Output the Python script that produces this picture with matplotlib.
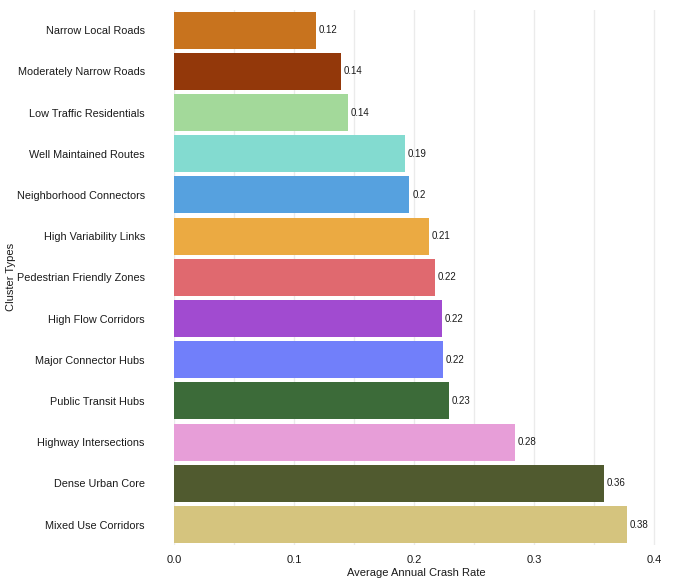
import numpy as np
import matplotlib.pyplot as plt

# cluster names, top to bottom as drawn
clusters = [
    "Narrow Local Roads",
    "Moderately Narrow Roads",
    "Low Traffic Residentials",
    "Well Maintained Routes",
    "Neighborhood Connectors",
    "High Variability Links",
    "Pedestrian Friendly Zones",
    "High Flow Corridors",
    "Major Connector Hubs",
    "Public Transit Hubs",
    "Highway Intersections",
    "Dense Urban Core",
    "Mixed Use Corridors",
]
crash_rate = [0.118, 0.139, 0.1448, 0.192, 0.196, 0.212, 0.217,
              0.223, 0.224, 0.229, 0.284, 0.358, 0.377]
bar_colors = ["#C8731E", "#93380A", "#A3D99A", "#83DBD0", "#56A1DF",
              "#EBAA42", "#E0696F", "#A14BD0", "#717FFA", "#3C6B39",
              "#E79ED8", "#505A2F", "#D5C47E"]

plt.rcParams["font.family"] = ["Liberation Sans", "DejaVu Sans"]

fig = plt.figure(figsize=(7.0, 5.83), dpi=100)
ax = fig.add_axes([0.2486, 0.065, 0.6914, 0.9187])

y = np.arange(len(clusters))
ax.barh(y, crash_rate, height=0.9, color=bar_colors, zorder=2)

for yi, v in zip(y, crash_rate):
    ax.text(v + 0.0025, yi, f"{round(v, 2):g}", va="center", ha="left",
            fontsize=7, color="#1a1a1a")

ax.set_ylim(len(clusters) - 0.5, -0.5)
ax.set_xlim(0, 0.403)
ax.set_yticks(y)
ax.set_yticklabels(clusters, fontsize=7.8, color="#1a1a1a")
ax.set_xticks([0.0, 0.1, 0.2, 0.3, 0.4])
ax.set_xticklabels(["0.0", "0.1", "0.2", "0.3", "0.4"], fontsize=8, color="#1a1a1a")
ax.set_xticks(np.arange(0, 0.41, 0.05), minor=True)
ax.tick_params(axis="y", length=0, pad=21)
ax.tick_params(axis="x", which="both", length=0, pad=7)

ax.grid(axis="x", which="both", color="#EBEBEB", linewidth=1, zorder=0)
ax.set_axisbelow(True)
for s in ax.spines.values():
    s.set_visible(False)

ax.set_xlabel("Average Annual Crash Rate", fontsize=8, color="#1a1a1a", labelpad=2)
ax.set_ylabel("Cluster Types", fontsize=8, color="#1a1a1a")
ax.yaxis.set_label_coords(-0.326, 0.5)

fig.savefig("out.png", dpi=100, facecolor="white")
